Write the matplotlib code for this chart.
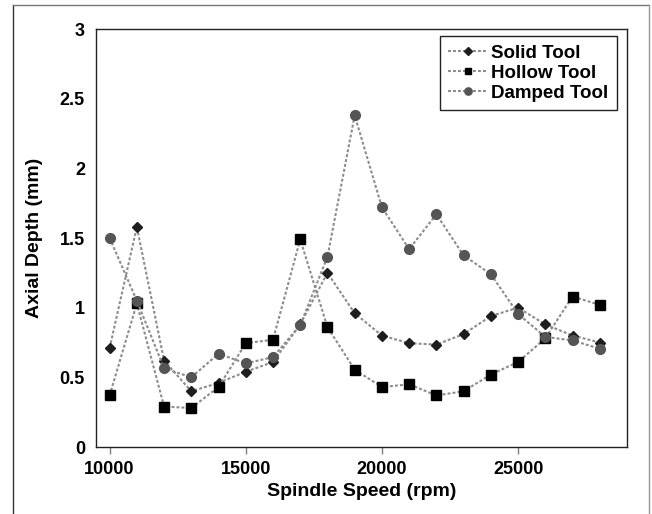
import numpy as np
import matplotlib
matplotlib.use('Agg')
import matplotlib.pyplot as plt
from matplotlib.ticker import FuncFormatter
from matplotlib.lines import Line2D

# 数据
speed = [10000, 11000, 12000, 13000, 14000, 15000, 16000, 17000, 18000, 19000,
         20000, 21000, 22000, 23000, 24000, 25000, 26000, 27000, 28000]
solid = [0.71, 1.58, 0.62, 0.40, 0.46, 0.54, 0.61, 0.88, 1.25, 0.96,
         0.80, 0.745, 0.735, 0.81, 0.94, 1.00, 0.88, 0.80, 0.75]
hollow = [0.37, 1.03, 0.29, 0.28, 0.43, 0.745, 0.77, 1.49, 0.86, 0.555,
          0.43, 0.45, 0.37, 0.40, 0.52, 0.61, 0.78, 1.08, 1.02]
damped = [1.50, 1.05, 0.565, 0.50, 0.67, 0.60, 0.645, 0.875, 1.365, 2.38,
          1.72, 1.42, 1.67, 1.375, 1.24, 0.955, 0.79, 0.765, 0.705]
names = ['Solid Tool', 'Hollow Tool', 'Damped Tool']

plt.rcParams['font.family'] = ['Liberation Sans', 'DejaVu Sans']
plt.rcParams['font.weight'] = 'bold'

fig = plt.figure(figsize=(6.52, 5.14), dpi=100)
ax = fig.add_axes([96/652, 1-447/514, 531/652, 418/514])

ls = (0, (1.4, 1.0))
ax.plot(speed, solid, linestyle=ls, color='#8c8c8c', lw=1.5,
        marker='D', ms=5, mfc='#1e1e1e', mec='#1e1e1e', label=names[0])
ax.plot(speed, hollow, linestyle=ls, color='#8c8c8c', lw=1.5,
        marker='s', ms=6.5, mfc='#000000', mec='#000000', label=names[1])
ax.plot(speed, damped, linestyle=ls, color='#8c8c8c', lw=1.5,
        marker='o', ms=7, mfc='#555555', mec='#555555', label=names[2])

ax.set_xlim(9500, 29000)
ax.set_ylim(0, 3)
ax.set_xticks([10000, 15000, 20000, 25000])
ax.set_yticks([0, 0.5, 1, 1.5, 2, 2.5, 3])
ax.yaxis.set_major_formatter(FuncFormatter(lambda v, p: '%g' % v))
ax.tick_params(axis='x', direction='out', length=5, width=1, color='#808080',
               labelsize=13, pad=5)
ax.tick_params(axis='y', length=0, labelsize=13, pad=8)
for s in ax.spines.values():
    s.set_color('#222222')
    s.set_linewidth(1)

ax.set_xlabel('Spindle Speed (rpm)', fontsize=14, fontweight='bold', labelpad=4)
ax.set_ylabel('Axial Depth (mm)', fontsize=14, fontweight='bold', labelpad=12)

leg = ax.legend(loc='upper right', bbox_to_anchor=(0.981, 0.983), borderaxespad=0,
                fancybox=False, edgecolor='#222222', framealpha=1,
                prop={'size': 13.5, 'weight': 'bold'}, handlelength=2.1,
                handletextpad=0.2, labelspacing=0.15, borderpad=0.45,
                markerscale=0.75)
leg.get_frame().set_linewidth(1)

# 外框
fig.add_artist(Line2D([13/652, 13/652], [0, 1-5/514], color='#333333', lw=1,
                      transform=fig.transFigure))
fig.add_artist(Line2D([13/652, 649/652], [1-5/514, 1-5/514], color='#777777', lw=1,
                      transform=fig.transFigure))
fig.add_artist(Line2D([649/652, 649/652], [0, 1-5/514], color='#999999', lw=1,
                      transform=fig.transFigure))

fig.savefig('out.png', dpi=100)
